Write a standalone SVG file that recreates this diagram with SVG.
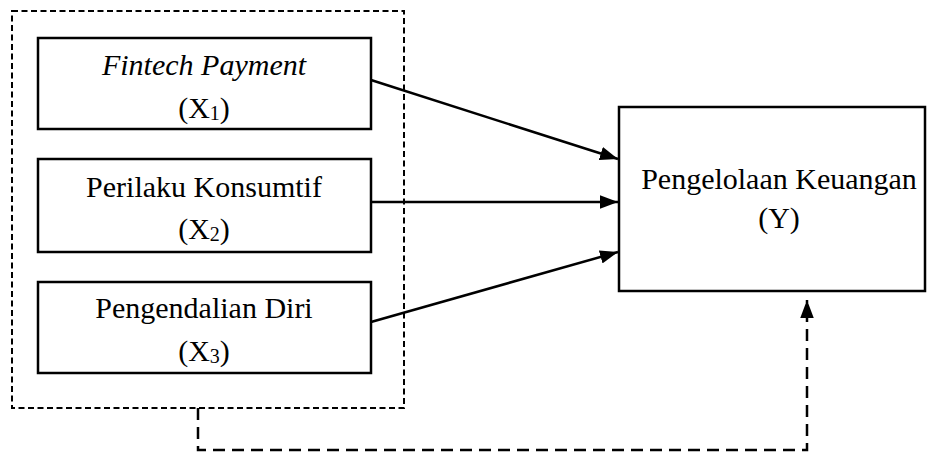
<svg xmlns="http://www.w3.org/2000/svg" width="928" height="452" viewBox="0 0 928 452">
<style>
.box{fill:#fff;stroke:#000;stroke-width:2.5}
.grp{fill:none;stroke:#000;stroke-width:2;stroke-dasharray:6 3.5}
.t{font-family:'Liberation Serif','DejaVu Serif',serif;font-size:30px;fill:#000;text-anchor:middle}
.sub{font-size:20px}
.edge{fill:none;stroke:#000;stroke-width:2.5}
.dedge{fill:none;stroke:#000;stroke-width:2.5;stroke-dasharray:12 7}
</style>
<defs>
<marker id="ah" viewBox="0 0 16 12" refX="16" refY="6" markerWidth="18" markerHeight="14" markerUnits="userSpaceOnUse" orient="auto">
<path d="M0,0 L16,6 L0,12 Z" fill="#000"/>
</marker>
</defs>
<rect id="group" class="grp" x="12" y="11" width="392" height="397"/>
<g id="x1">
<rect class="box" x="38" y="38" width="333" height="91"/>
<text class="t" x="204" y="75" font-style="italic">Fintech Payment</text>
<text class="t" x="204" y="118">(X<tspan class="sub" dy="2">1</tspan><tspan dy="-2">)</tspan></text>
</g>
<g id="x2">
<rect class="box" x="38" y="159" width="333" height="93"/>
<text class="t" x="204" y="197">Perilaku Konsumtif</text>
<text class="t" x="204" y="239">(X<tspan class="sub" dy="2">2</tspan><tspan dy="-2">)</tspan></text>
</g>
<g id="x3">
<rect class="box" x="38" y="282" width="333" height="91"/>
<text class="t" x="204" y="318">Pengendalian Diri</text>
<text class="t" x="204" y="361">(X<tspan class="sub" dy="2">3</tspan><tspan dy="-2">)</tspan></text>
</g>
<g id="y">
<rect class="box" x="619" y="107" width="306" height="184"/>
<text class="t" x="779" y="189">Pengelolaan Keuangan</text>
<text class="t" x="779" y="228">(Y)</text>
</g>
<g id="connectors">
<line class="edge" x1="371" y1="80" x2="618" y2="159" marker-end="url(#ah)"/>
<line class="edge" x1="371" y1="202" x2="618" y2="202" marker-end="url(#ah)"/>
<line class="edge" x1="371" y1="322" x2="618" y2="252" marker-end="url(#ah)"/>
<polyline class="dedge" points="198,408 198,450 807,450 807,300" marker-end="url(#ah)"/>
</g>
</svg>
